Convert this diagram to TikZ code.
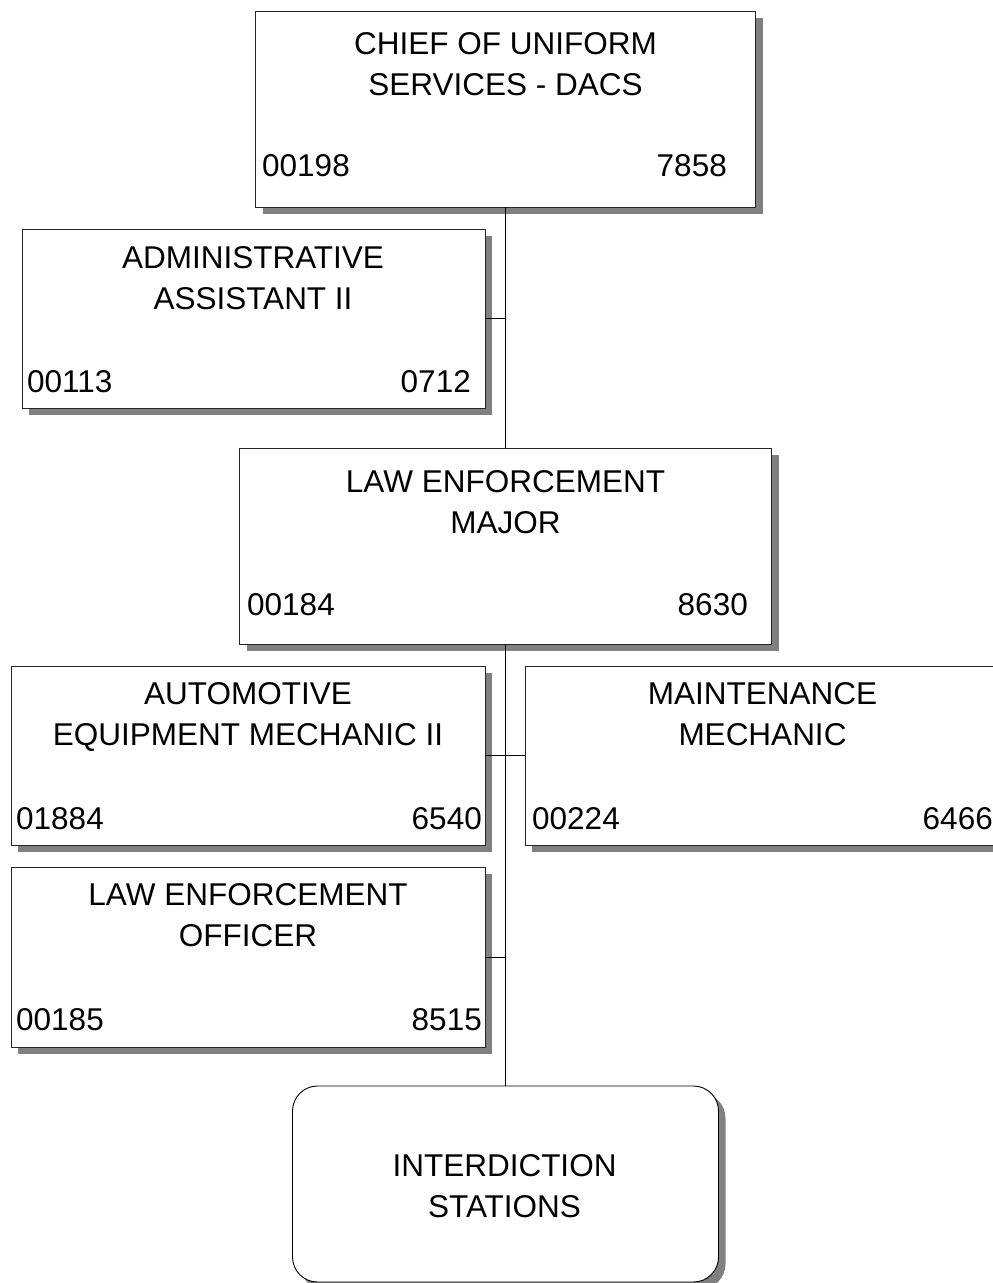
\documentclass[tikz,border=0pt]{standalone}
\usepackage{fontspec}
\setmainfont{Liberation Sans}
\usetikzlibrary{shadows}
\begin{document}
\begin{tikzpicture}[x=1pt,y=-1pt,
  posbox/.style={rectangle, draw=black!85, line width=0.9pt, fill=white, inner sep=0pt,
    drop shadow={shadow xshift=7pt, shadow yshift=-7pt, fill=black!50, opacity=1}},
  stationbox/.style={posbox, draw=black, rounded corners=25pt},
  titletext/.style={font=\fontsize{31.5}{41}\selectfont, align=center, inner sep=0pt, anchor=north},
  codeleft/.style={font=\fontsize{31.5}{38}\selectfont, inner sep=0pt, anchor=base west},
  coderight/.style={font=\fontsize{31.5}{38}\selectfont, inner sep=0pt, anchor=base east},
  link/.style={draw=black, line width=0.9pt}]
\useasboundingbox (0,0) rectangle (993,1283);
\clip (0,0) rectangle (993,1283);

% position boxes
\node[posbox, minimum width=500pt, minimum height=196pt] (chief) at (505.5,109) {};
\node[posbox, minimum width=463pt, minimum height=179pt] (admin) at (253.5,318.5) {};
\node[posbox, minimum width=532pt, minimum height=196pt] (major) at (505.5,546) {};
\node[posbox, minimum width=474pt, minimum height=179pt] (auto) at (248,755.5) {};
\node[posbox, minimum width=475pt, minimum height=179pt] (maint) at (762.5,755.5) {};
\node[posbox, minimum width=474pt, minimum height=180pt] (leo) at (248,957) {};
\node[stationbox, minimum width=426pt, minimum height=196pt] (inter) at (505.5,1184) {};

% titles
\node[titletext] (chiefT) at (505.5,32.7) {CHIEF OF UNIFORM\\SERVICES - DACS};
\node[titletext] (adminT) at (253,246.7) {ADMINISTRATIVE\\ASSISTANT II};
\node[titletext] (majorT) at (505.5,470.7) {LAW ENFORCEMENT\\MAJOR};
\node[titletext] (autoT) at (248,682.7) {AUTOMOTIVE\\EQUIPMENT MECHANIC II};
\node[titletext] (maintT) at (762.5,682.7) {MAINTENANCE\\MECHANIC};
\node[titletext] (leoT) at (248,883.7) {LAW ENFORCEMENT\\OFFICER};
\node[titletext] (interT) at (504.5,1154.7) {INTERDICTION\\STATIONS};

% position and class codes
\node[codeleft] (chiefL) at (262,176.3) {00198};
\node[coderight] (chiefR) at (727,176.3) {7858};
\node[codeleft] (adminL) at (27,392.3) {00113};
\node[coderight] (adminR) at (471,392.3) {0712};
\node[codeleft] (majorL) at (247,615.3) {00184};
\node[coderight] (majorR) at (748,615.3) {8630};
\node[codeleft] (autoL) at (16,829.3) {01884};
\node[coderight] (autoR) at (482,829.3) {6540};
\node[codeleft] (maintL) at (532,829.3) {00224};
\node[coderight] (maintR) at (993,829.3) {6466};
\node[codeleft] (leoL) at (16,1030.3) {00185};
\node[coderight] (leoR) at (482,1030.3) {8515};

% reporting lines
\draw[link] (chief.south) -- (major.north);
\draw[link] (major.south) -- (inter.north);
\draw[link] (admin.east) -- (admin.east -| chief.south);
\draw[link] (auto.east) -- (maint.west);
\draw[link] (leo.east) -- (leo.east -| chief.south);
\end{tikzpicture}
\end{document}
